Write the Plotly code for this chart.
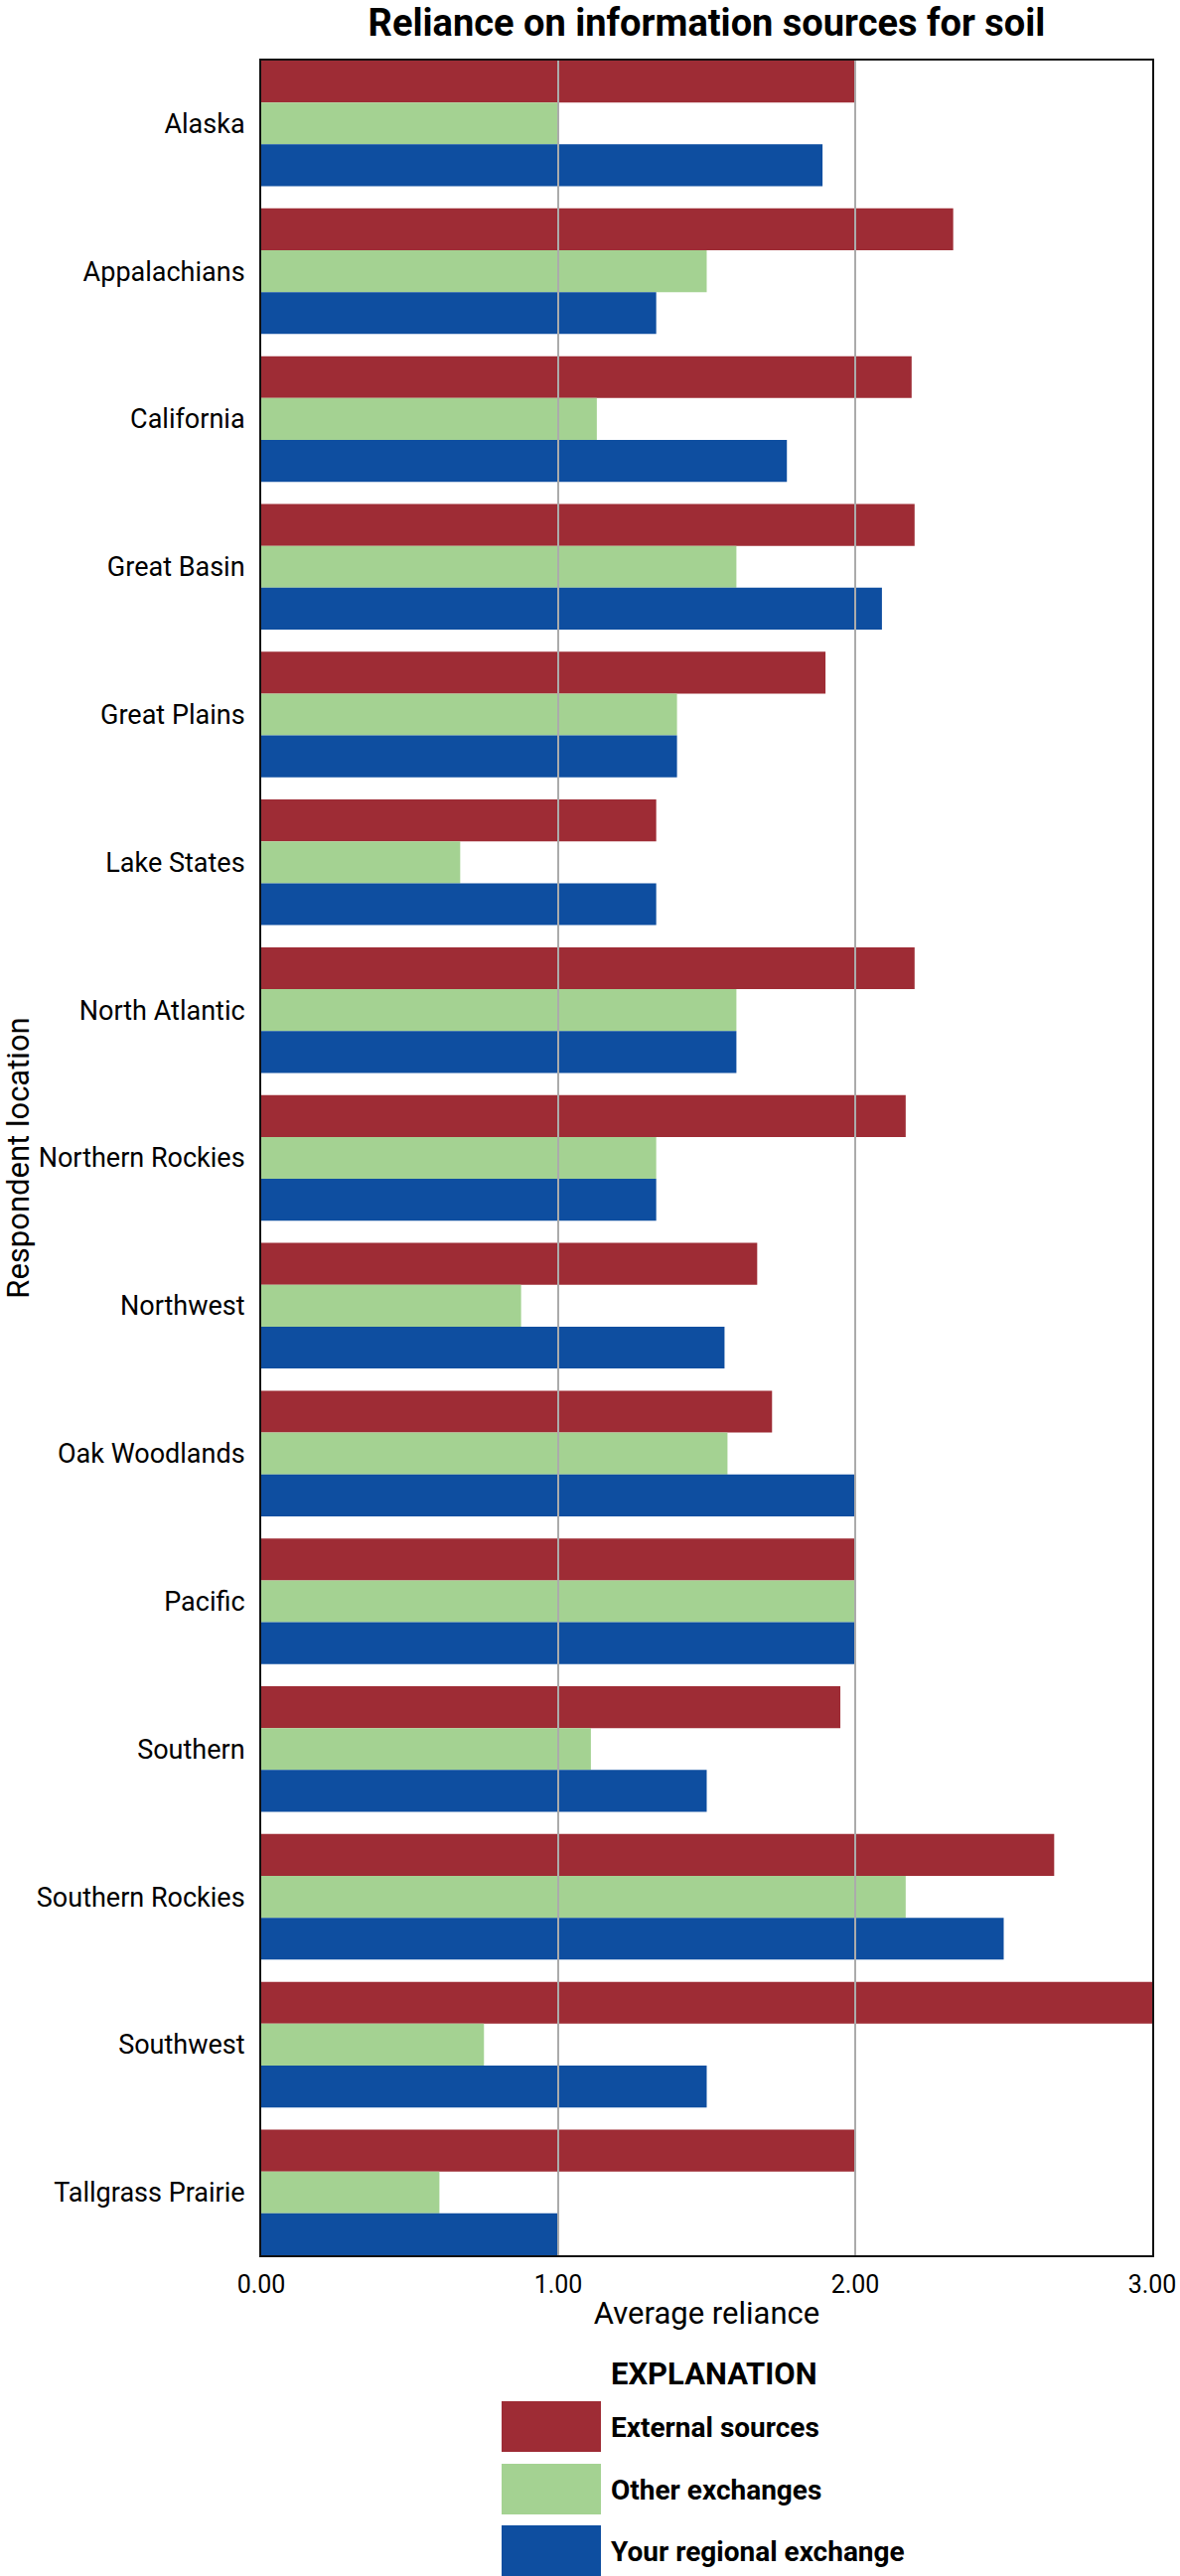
import plotly.graph_objects as go

# ---------------- data ----------------
categories = ["Alaska", "Appalachians", "California", "Great Basin", "Great Plains",
              "Lake States", "North Atlantic", "Northern Rockies", "Northwest",
              "Oak Woodlands", "Pacific", "Southern", "Southern Rockies", "Southwest",
              "Tallgrass Prairie"]
external_sources = [2.00, 2.33, 2.19, 2.20, 1.90, 1.33, 2.20, 2.17, 1.67, 1.72, 2.00, 1.95, 2.67, 3.00, 2.00]
other_exchanges = [1.00, 1.50, 1.13, 1.60, 1.40, 0.67, 1.60, 1.33, 0.875, 1.57, 2.00, 1.11, 2.17, 0.75, 0.60]
regional_exchange = [1.89, 1.33, 1.77, 2.09, 1.40, 1.33, 1.60, 1.33, 1.56, 2.00, 2.00, 1.50, 2.50, 1.50, 1.00]

series_names = ["External sources", "Other exchanges", "Your regional exchange"]
series_values = [external_sources, other_exchanges, regional_exchange]
series_colors = ["#9E2C35", "#A4D292", "#0E4EA0"]

x_tickvals = [0, 1, 2, 3]
x_ticktext = ["0.00", "1.00", "2.00", "3.00"]

# ---------------- layout constants ----------------
W, H = 1188, 2594
ML, MR, MT, MB = 263, 28, 61, 323
PW = W - ML - MR
PH = H - MT - MB
FONT = "Roboto, Liberation Sans, sans-serif"
BARGAP = 0.15


def px_x(px):
    return (px - ML) / PW


def px_y(py):
    return (H - MB - py) / PH


fig = go.Figure()
for name, vals, col in zip(series_names, series_values, series_colors):
    fig.add_trace(go.Bar(
        y=categories, x=vals, orientation="h", name=name,
        marker=dict(color=col, line=dict(width=0)),
        showlegend=False,
    ))

n = len(categories)
half = (1 - BARGAP) / 2

fig.update_layout(
    width=W, height=H,
    margin=dict(l=ML, r=MR, t=MT, b=MB),
    paper_bgcolor="white", plot_bgcolor="white",
    barmode="group", bargap=BARGAP, bargroupgap=0,
    font=dict(family=FONT, color="black", size=27),
    title=dict(text="Reliance on information sources for soil",
               font=dict(family=FONT, size=38, weight="bold", color="black"),
               xref="paper", x=0.5, xanchor="center",
               yref="container", y=1 - 23 / H, yanchor="middle"),
    xaxis=dict(range=[0, 3], tickvals=x_tickvals, ticktext=x_ticktext,
               showgrid=False, zeroline=False, automargin=False,
               showline=True, mirror=True, linecolor="#111111", linewidth=2,
               ticks="", ticklabelstandoff=6, layer="above traces",
               tickfont=dict(size=25),
               title=dict(text="Average reliance", font=dict(size=31), standoff=4)),
    yaxis=dict(type="category", range=[n - 1 + half, -half],
               showgrid=False, zeroline=False, automargin=False,
               showline=True, mirror=True, linecolor="#111111", linewidth=2,
               ticks="", ticklabelstandoff=9, layer="above traces",
               tickfont=dict(size=27),
               title=dict(text="Respondent location", font=dict(size=31), standoff=18)),
)

# grid lines drawn above the bars
for tv in x_tickvals[1:-1]:
    fig.add_shape(type="line", xref="x", yref="paper", x0=tv, x1=tv, y0=0, y1=1,
                  line=dict(color="#ABABAB", width=2), layer="above")

# explanation (legend)
fig.add_annotation(text="<b>EXPLANATION</b>", xref="paper", yref="paper",
                   x=px_x(719), y=px_y(2390), xanchor="center", yanchor="middle",
                   showarrow=False, font=dict(family=FONT, size=31, color="black"))
box_tops = [2418, 2481, 2543]
for name, col, top in zip(series_names, series_colors, box_tops):
    fig.add_shape(type="rect", xref="paper", yref="paper",
                  x0=px_x(505), x1=px_x(605), y0=px_y(top + 51), y1=px_y(top),
                  fillcolor=col, line=dict(width=0), layer="above")
    fig.add_annotation(text="<b>" + name + "</b>", xref="paper", yref="paper",
                       x=px_x(613), y=px_y(top + 26), xanchor="left", yanchor="middle",
                       showarrow=False, font=dict(family=FONT, size=28, color="black"))

fig.write_html("out.html",
               config={"displayModeBar": False, "staticPlot": True},
               post_script="document.body.style.margin='0';document.body.style.overflow='hidden';")
